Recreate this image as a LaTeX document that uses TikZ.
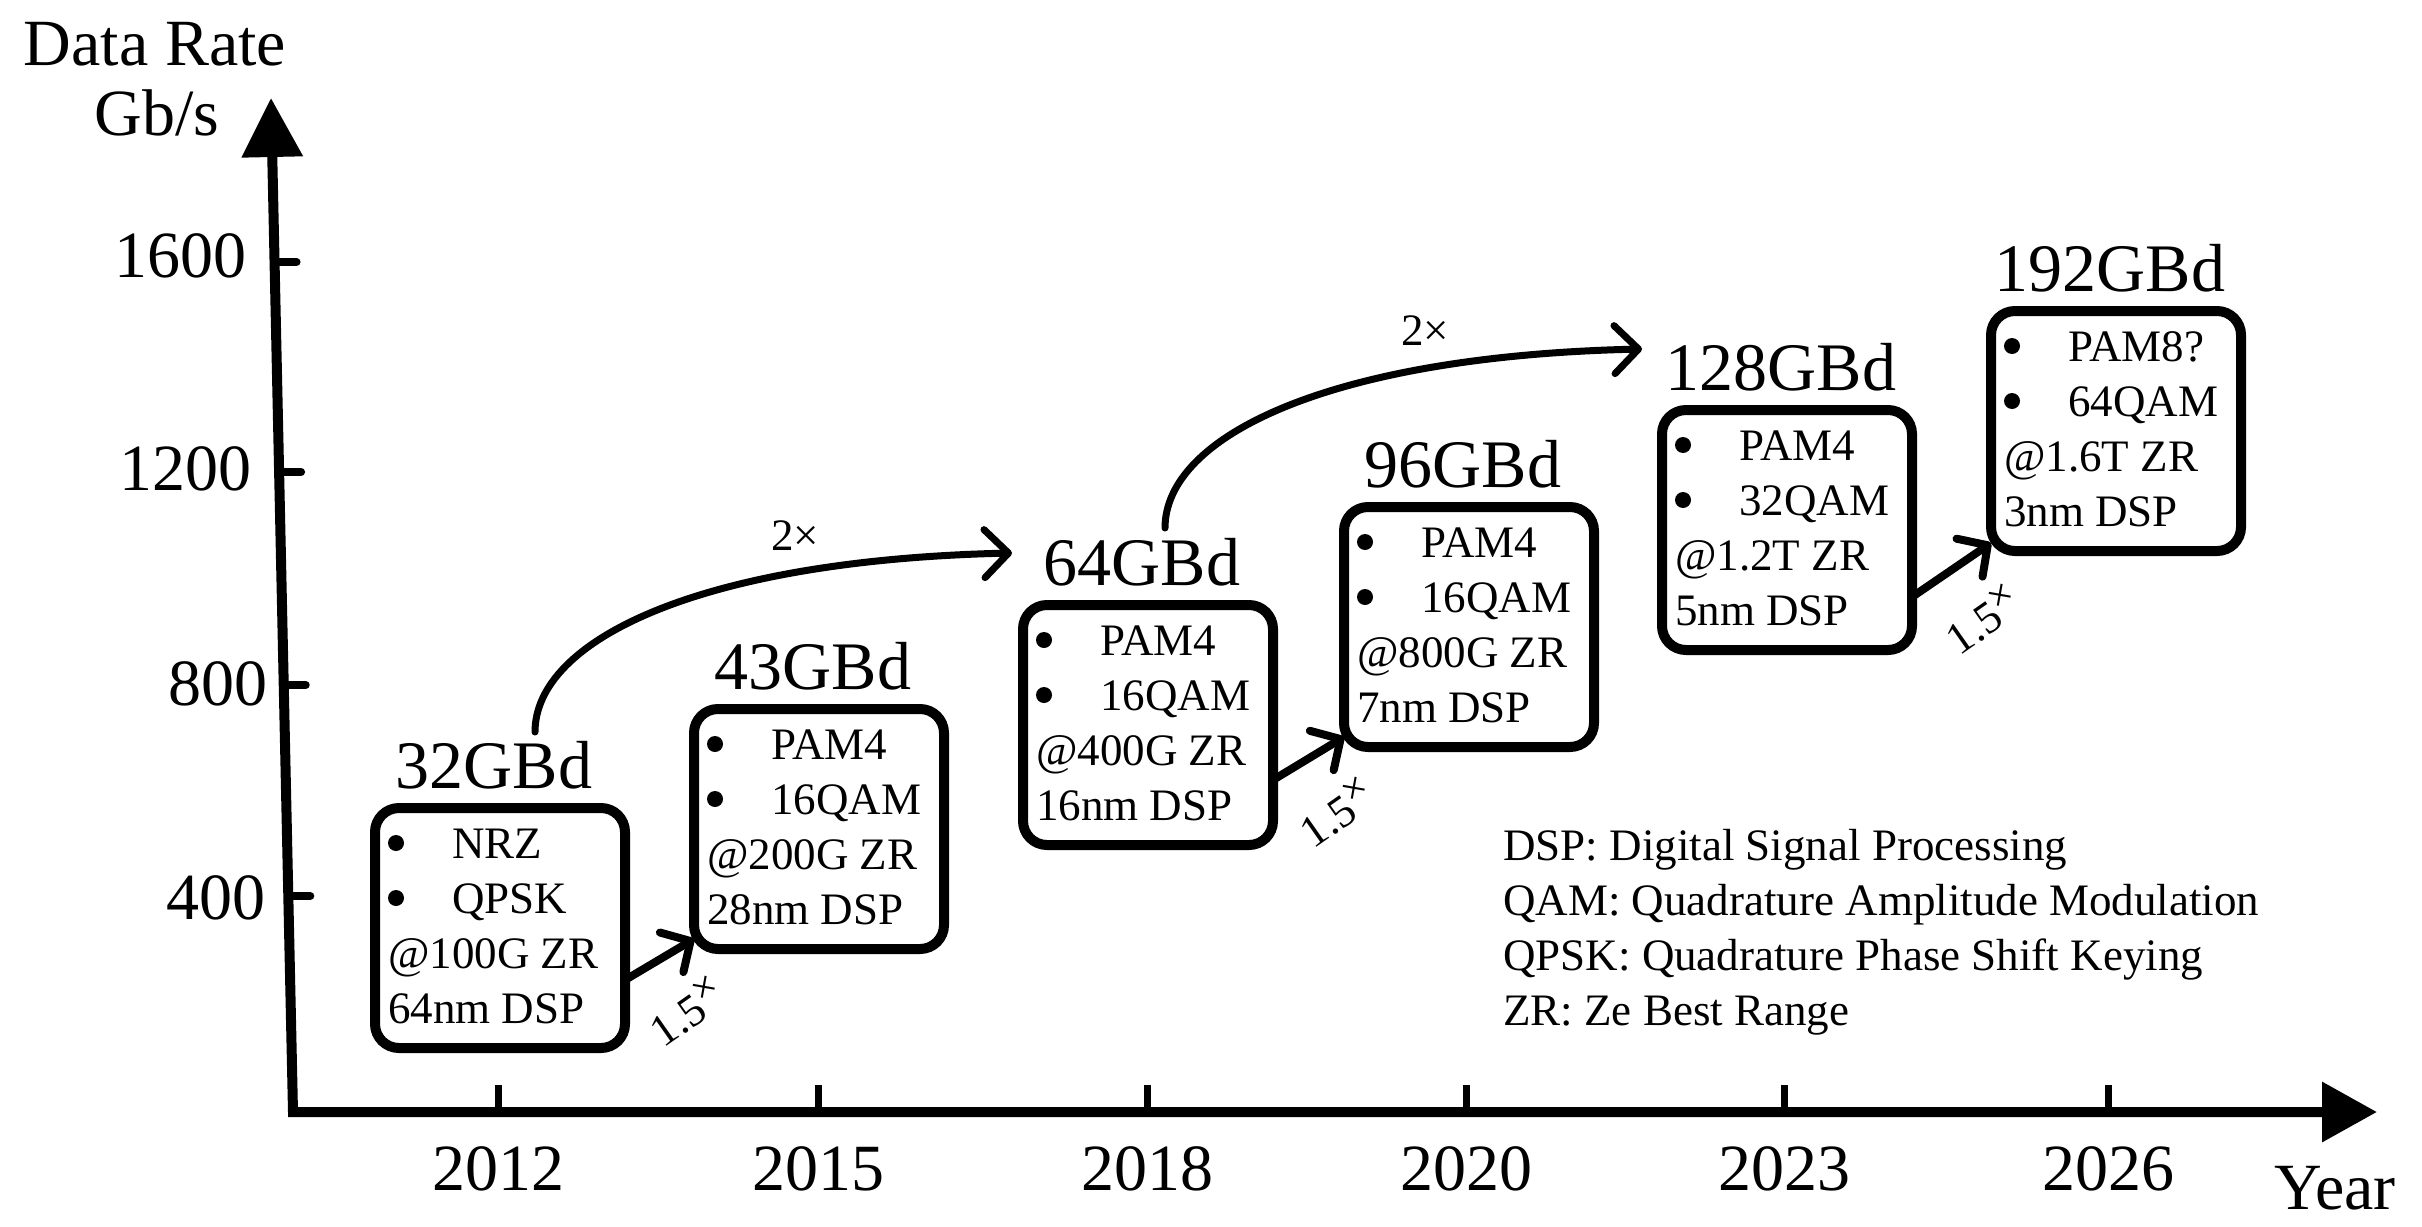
\documentclass[tikz,border=0pt]{standalone}
\usepackage{fontspec}
\setmainfont{Liberation Serif}
\usetikzlibrary{arrows.meta,calc}
\newcommand\bxlines[5]{%
  \fill ([xshift=21pt,yshift=-35pt]#1.north west) circle (8pt);
  \fill ([xshift=21pt,yshift=-90pt]#1.north west) circle (8pt);
  \node[btxt] (#1l1) at ([xshift=77pt,yshift=-50pt]#1.north west) {#2};
  \node[btxt] (#1l2) at ([xshift=77pt,yshift=-105pt]#1.north west) {#3};
  \node[btxt] (#1l3) at ([xshift=13pt,yshift=-160pt]#1.north west) {#4};
  \node[btxt] (#1l4) at ([xshift=13pt,yshift=-215pt]#1.north west) {#5};}
\newcommand\fivex{1.5\raisebox{13pt}{\fontsize{42}{42}\selectfont ×}}
\begin{document}
\begin{tikzpicture}[x=1pt,y=-1pt,
  box/.style={draw, line width=10pt, rounded corners=24pt, minimum width=250pt,
    minimum height=240pt, inner sep=0pt, outer sep=0pt},
  btxt/.style={anchor=base west, inner sep=0pt, font=\fontsize{45}{54}\selectfont},
  gbd/.style={anchor=base, inner sep=0pt, font=\fontsize{68}{80}\selectfont},
  axlbl/.style={inner sep=0pt, font=\fontsize{66}{79}\selectfont},
  fac/.style={inner sep=0pt, font=\fontsize{45}{54}\selectfont},
  ytick/.style={line width=8pt, line cap=round},
  xtick/.style={line width=7pt},
  gainarrow/.style={line width=8pt, line cap=round, -{Straight Barb[length=22pt,width=46pt,round]}},
  curvearrow/.style={line width=7pt, line cap=round, -{Straight Barb[length=24pt,width=48pt,round]}}]
\useasboundingbox[fill=white] (0,0) rectangle (2422,1226);

% axes
\coordinate (ytip) at (271,98);
\coordinate (orig) at (293,1112);
\coordinate (xtip) at (2377,1112);
\draw[line width=10pt, {Triangle[length=59pt,width=59pt]}-{Triangle[length=55pt,width=58pt]}]
  (ytip) -- (orig) -- (xtip);

\node[axlbl, anchor=base] (ylab1) at (155,65) {Data Rate};
\node[axlbl, anchor=base] (ylab2) at (157,135) {Gb/s};

\foreach \yy/\lab/\rx/\by in {262/1600/247/277, 472/1200/252/490, 685/800/268/705, 896/400/266/919}{
  \coordinate (yt\lab) at ($(ytip)!{(\yy-98)/1014}!(orig)$);
  \draw[ytick] (yt\lab) -- ++(22,0);
  \node[axlbl, anchor=base east] (yl\lab) at (\rx,\by) {\lab};
}
\foreach \xx/\yr in {498/2012, 818/2015, 1147/2018, 1466/2020, 1784/2023, 2108/2026}{
  \draw[xtick] (\xx,1112) -- (\xx,1085);
  \node[axlbl, anchor=base] (xl\yr) at (\xx,1190) {\yr};
}
\node[axlbl, anchor=base] (yearlbl) at (2335,1209) {Year};

% boxes
\node[box] (b1) at (500,928) {};
\node[box] (b2) at (819,829) {};
\node[box] (b3) at (1148,725) {};
\node[box] (b4) at (1469,627) {};
\node[box] (b5) at (1787,530) {};
\node[box] (b6) at (2116,431) {};

\node[gbd] (g1) at ([xshift=-6pt,yshift=20pt]b1.north) {32GBd};
\node[gbd] (g2) at ([xshift=-6pt,yshift=20pt]b2.north) {43GBd};
\node[gbd] (g3) at ([xshift=-6pt,yshift=20pt]b3.north) {64GBd};
\node[gbd] (g4) at ([xshift=-6pt,yshift=20pt]b4.north) {96GBd};
\node[gbd] (g5) at ([xshift=-6pt,yshift=20pt]b5.north) {128GBd};
\node[gbd] (g6) at ([xshift=-6pt,yshift=20pt]b6.north) {192GBd};

\bxlines{b1}{NRZ}{QPSK}{@100G ZR}{64nm DSP}
\bxlines{b2}{PAM4}{16QAM}{@200G ZR}{28nm DSP}
\bxlines{b3}{PAM4}{16QAM}{@400G ZR}{16nm DSP}
\bxlines{b4}{PAM4}{16QAM}{@800G ZR}{7nm DSP}
\bxlines{b5}{PAM4}{32QAM}{@1.2T ZR}{5nm DSP}
\bxlines{b6}{PAM8?}{64QAM}{@1.6T ZR}{3nm DSP}

% 1.5x arrows
\coordinate (a1s) at ([yshift=-52pt]b1.east);
\coordinate (a1e) at ([yshift=10pt]b2.south west);
\coordinate (a2s) at ([yshift=-55pt]b3.east);
\coordinate (a2e) at ([yshift=10pt]b4.south west);
\coordinate (a3s) at ([yshift=-67pt]b5.east);
\coordinate (a3e) at ([yshift=8pt]b6.south west);
\draw[gainarrow] (a1s) -- (a1e);
\draw[gainarrow] (a2s) -- (a2e);
\draw[gainarrow] (a3s) -- (a3e);
\node[fac, rotate=35] (f1) at ($(a1s)!0.5!(a1e)+(27,52)$) {\fivex};
\node[fac, rotate=35] (f2) at ($(a2s)!0.5!(a2e)+(28,54)$) {\fivex};
\node[fac, rotate=35] (f3) at ($(a3s)!0.5!(a3e)+(31,49)$) {\fivex};

% 2x curved arrows
\coordinate (c1s) at (535,732);
\coordinate (c1e) at (1012,553);
\coordinate (c2s) at (1165,528);
\coordinate (c2e) at (1642,349);
\draw[curvearrow] (c1s) .. controls (535,640) and (700,560) .. (c1e);
\draw[curvearrow] (c2s) .. controls (1165,436) and (1330,356) .. (c2e);
\node[fac, anchor=base] (t1) at (795,550) {2×};
\node[fac, anchor=base] (t2) at (1425,345) {2×};

% legend
\node[btxt] (lg1) at (1503,860) {DSP: Digital Signal Processing};
\node[btxt] (lg2) at (1503,915) {QAM: Quadrature Amplitude Modulation};
\node[btxt] (lg3) at (1503,970) {QPSK: Quadrature Phase Shift Keying};
\node[btxt] (lg4) at (1503,1025) {ZR: Ze Best Range};
\end{tikzpicture}
\end{document}
